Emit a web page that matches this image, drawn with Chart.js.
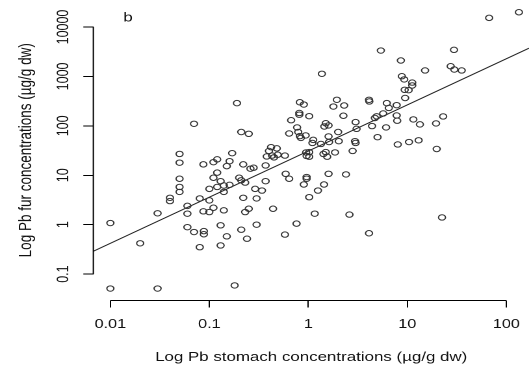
<!DOCTYPE html>
<html>
<head>
<meta charset="utf-8">
<script src="https://cdn.jsdelivr.net/npm/chart.js@4.4.1/dist/chart.umd.min.js"></script>
<style>
  html, body { margin: 0; padding: 0; background: #fff; overflow: hidden; }
  /* the reference picture is stretched sideways, so the chart is drawn narrow and widened */
  #wrap { width: 407px; height: 372px; transform: scaleX(1.2998); transform-origin: 0 0; }
</style>
</head>
<body>
<div id="wrap"><canvas id="grafik"></canvas></div>
<script>

// Pb in stomach (x) and in fur (y), ug/g dw
var stomach = [0.01, 0.01, 0.02, 0.03, 0.03, 0.04, 0.04, 0.05, 0.05, 0.05,
    0.05, 0.05, 0.06, 0.06, 0.06, 0.07, 0.07, 0.08, 0.08, 0.087,
    0.087, 0.088, 0.088, 0.1, 0.1, 0.1, 0.11, 0.12, 0.11, 0.11,
    0.12, 0.12, 0.13, 0.13, 0.13, 0.14, 0.14, 0.14, 0.15, 0.15,
    0.16, 0.16, 0.17, 0.18, 0.19, 0.2, 0.21, 0.25, 0.21, 0.23,
    0.22, 0.26, 0.28, 0.22, 0.21, 0.24, 0.23, 0.25, 0.29, 0.3,
    0.34, 0.3, 0.37, 0.37, 0.44, 0.42, 0.48, 0.4, 0.43, 0.49,
    0.58, 0.45, 0.38, 0.59, 0.64, 0.76, 0.58, 0.9, 0.96, 0.96,
    1.02, 1.16, 1.25, 1.44, 1.6, 2.4, 2.6, 4.1, 0.82, 0.9,
    0.81, 0.81, 1.02, 0.67, 0.77, 0.64, 0.79, 0.82, 0.84, 0.94,
    1.12, 1.1, 1.37, 1.5, 1.6, 1.45, 1.6, 1.34, 1.62, 0.95,
    1.02, 0.96, 1.02, 1.5, 1.42, 1.55, 1.86, 1.94, 1.79, 2.3,
    2.26, 2.0, 2.03, 2.8, 2.96, 3.0, 3.0, 3.07, 4.4, 4.1,
    4.13, 4.7, 4.9, 5.7, 6.1, 5.0, 5.4, 6.2, 6.5, 7.8,
    7.8, 7.9, 8.0, 8.6, 8.8, 9.3, 11.2, 11.2, 9.4, 10.3,
    9.5, 11.5, 13.4, 10.4, 13, 15.1, 19.5, 23, 19.8, 22.4,
    29.6, 27.4, 29.8, 35.4, 67, 134];

var fur = [1.08, 0.051, 0.42, 1.7, 0.051, 3.5, 3.0, 27, 18, 8.5,
    5.8, 4.6, 2.4, 1.67, 0.89, 0.71, 110, 3.4, 0.35, 16.6,
    1.86, 0.74, 0.64, 5.3, 3.1, 1.8, 18.4, 21, 8.9, 2.2,
    11.3, 5.8, 7.6, 0.97, 0.38, 6.2, 4.6, 1.95, 15.3, 0.58,
    19.3, 6.4, 28, 0.059, 288, 8.9, 75, 69, 7.9, 7.1,
    16.6, 13.6, 14.2, 3.5, 0.79, 0.52, 1.8, 2.1, 5.3, 3.4,
    4.9, 1.0, 15.8, 7.6, 2.1, 37, 35, 31, 25, 26,
    25, 23, 24, 10.7, 8.5, 1.05, 0.63, 6.5, 9.2, 8.5,
    3.6, 1.67, 4.9, 6.5, 10.7, 10.4, 1.6, 0.67, 300, 270,
    182, 168, 157, 130, 93, 70, 75, 62, 57, 64,
    52, 45, 1130, 113, 102, 97, 61, 43, 47, 29,
    29.4, 24.6, 23.7, 29.4, 27, 23.7, 29, 337, 246, 258,
    160, 75, 49, 31, 49, 45, 119, 87, 99, 337,
    311, 144, 156, 178, 93, 59, 3340, 288, 230, 262,
    162, 127, 42, 2100, 1010, 870, 750, 655, 536, 527,
    366, 135, 107, 47, 51, 1320, 112, 155, 34, 1.4,
    3450, 1610, 1380, 1320, 15300, 19900];

// fitted line, its two ends at the edges of the plot
var fitX = [0.0067, 169.5];
var fitY = [0.288, 3722];

var xTicks = [0.01, 0.1, 1, 10, 100];
var xTickLabels = ["0.01", "0.1", "1", "10", "100"];
var yTicks = [0.1, 1, 10, 100, 1000, 10000];
var yTickLabels = ["0.1", "1", "10", "100", "1000", "10000"];

var xTitle = "Log Pb stomach concentrations (\u00b5g/g dw)";
var yTitle = "Log Pb fur concentrations (\u00b5g/g dw)";
var panel = "b";

var font = "'Liberation Sans', Arial, sans-serif";

var tocke = [];
for (var i = 0; i < stomach.length; i++) {
    tocke.push({x: stomach[i], y: fur[i]});
}
var linija = [];
for (var j = 0; j < fitX.length; j++) {
    linija.push({x: fitX[j], y: fitY[j]});
}

// R-style axes: the axis line only runs from first to last tick
var rAxes = {
    id: 'rAxes',
    afterDraw: function(chart) {
        var ctx = chart.ctx, sx = chart.scales.x, sy = chart.scales.y, a = chart.chartArea;
        ctx.save();
        ctx.strokeStyle = '#000';
        ctx.lineWidth = 1;
        ctx.beginPath();
        ctx.moveTo(sx.getPixelForValue(xTicks[0]), a.bottom);
        ctx.lineTo(sx.getPixelForValue(xTicks[xTicks.length - 1]), a.bottom);
        ctx.moveTo(a.left, sy.getPixelForValue(yTicks[0]));
        ctx.lineTo(a.left, sy.getPixelForValue(yTicks[yTicks.length - 1]));
        ctx.stroke();
        ctx.fillStyle = '#111';
        ctx.font = '13px ' + font;
        ctx.textAlign = 'center';
        ctx.textBaseline = 'middle';
        ctx.fillText(panel, 98.5, 18);
        ctx.restore();
    }
};

var config = {
    type: 'scatter',
    data: {
        datasets: [
            {
                data: tocke,
                pointStyle: 'circle',
                pointRadius: 2.7,
                pointBorderWidth: 1,
                pointBorderColor: '#333',
                pointBackgroundColor: 'rgba(0,0,0,0)',
                showLine: false
            },
            {
                data: linija,
                showLine: true,
                pointRadius: 0,
                borderColor: '#222',
                borderWidth: 1
            }
        ]
    },
    options: {
        responsive: true,
        maintainAspectRatio: false,
        devicePixelRatio: 2,
        animation: false,
        events: [],
        layout: { padding: 0, autoPadding: false },
        plugins: {
            legend: { display: false },
            tooltip: { enabled: false }
        },
        scales: {
            x: {
                type: 'logarithmic',
                position: 'bottom',
                min: 0.00673,
                max: 169.5,
                afterBuildTicks: function(s) {
                    s.ticks = xTicks.map(function(v) { return {value: v}; });
                },
                afterFit: function(s) {
                    s.height = 71.5;
                    s.paddingLeft = 0;
                    s.paddingRight = 0;
                },
                border: { display: false },
                grid: { drawOnChartArea: false, drawTicks: true, tickLength: 7, color: '#000', lineWidth: 1 },
                ticks: {
                    autoSkip: false,
                    minRotation: 0,
                    maxRotation: 0,
                    padding: 9.5,
                    color: '#111',
                    font: { family: font, size: 12.5 },
                    callback: function(v, i) { return xTickLabels[i]; }
                },
                title: {
                    display: true,
                    text: xTitle,
                    color: '#111',
                    font: { family: font, size: 13 },
                    padding: { top: 0, bottom: 7 }
                }
            },
            y: {
                type: 'logarithmic',
                position: 'left',
                min: 0.0292,
                max: 35200,
                afterBuildTicks: function(s) {
                    s.ticks = yTicks.map(function(v) { return {value: v}; });
                },
                afterFit: function(s) {
                    s.width = 71.8;
                    s.paddingTop = 0;
                    s.paddingBottom = 0;
                },
                border: { display: false },
                grid: { drawOnChartArea: false, drawTicks: true, tickLength: 7.7, color: '#000', lineWidth: 1 },
                ticks: {
                    autoSkip: false,
                    minRotation: 90,
                    maxRotation: 90,
                    crossAlign: 'center',
                    padding: -2.4,
                    color: '#111',
                    font: { family: font, size: 12.5 },
                    callback: function(v, i) { return yTickLabels[i]; }
                },
                title: {
                    display: true,
                    text: yTitle,
                    color: '#111',
                    font: { family: font, size: 13.5 },
                    padding: { top: 12, bottom: 0 }
                }
            }
        }
    },
    plugins: [rAxes]
};

var chart = new Chart(document.getElementById('grafik'), config);

</script>
</body>
</html>
